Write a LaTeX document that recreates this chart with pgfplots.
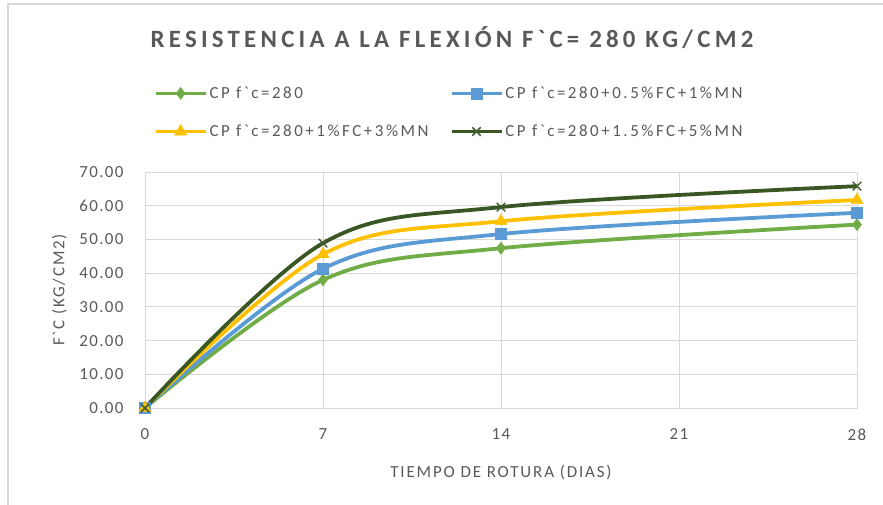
\documentclass[border=0pt]{standalone}
\usepackage{fontspec}
\setmainfont{Carlito}[Ligatures=TeXOff]
\usepackage{pgfplots}
\pgfplotsset{compat=1.18}
\definecolor{txt}{RGB}{89,89,89}
\definecolor{gridc}{RGB}{217,217,217}
\definecolor{cgreen}{RGB}{112,173,71}
\definecolor{cblue}{RGB}{91,155,213}
\definecolor{cyellow}{RGB}{255,192,0}
\definecolor{cdark}{RGB}{56,87,35}

\begin{document}
\begin{tikzpicture}
\useasboundingbox (0bp,0bp) rectangle (883bp,505bp);
\draw[gridc,line width=1.2bp] (8bp,0bp) -- (8bp,501bp) -- (883bp,501bp);

\node[text=txt,font=\fontsize{25}{28}\selectfont\bfseries\addfontfeature{LetterSpace=17}] at (452bp,467bp)
  {RESISTENCIA A LA FLEXIÓN F`C= 280 KG/CM2};

\begin{axis}[
  at={(145bp,97bp)}, anchor=south west,
  scale only axis,
  width=712bp, height=236bp,
  xmin=0, xmax=28, ymin=0, ymax=70,
  xtick={0,7,14,21,28},
  ytick={0,10,...,70},
  yticklabel={\pgfmathprintnumber[fixed,fixed zerofill,precision=2]{\tick}},
  /pgf/number format/assume math mode=true,
  tick label style={font=\fontsize{17}{19}\selectfont\addfontfeature{LetterSpace=8},text=txt},
  xticklabel style={yshift=-17bp},
  yticklabel style={xshift=-18bp},
  major tick length=0pt,
  grid=major,
  grid style={gridc,line width=0.9bp},
  axis line style={gridc,line width=0.9bp},
  xlabel={TIEMPO DE ROTURA (DIAS)},
  ylabel={F`C (KG/CM2)},
  label style={font=\fontsize{17}{19}\selectfont\addfontfeature{LetterSpace=11},text=txt},
  xlabel style={yshift=-18bp},
  ylabel style={yshift=6bp},
  clip=false,
  legend columns=2,
  legend cell align=left,
  legend style={draw=none,fill=none,inner sep=0pt,
    at={(0.012,1.37)},anchor=north west,
    font=\fontsize{17}{19}\selectfont\addfontfeature{LetterSpace=15},text=txt,
    /tikz/every even column/.append style={column sep=19bp},
    row sep=21bp},
  legend image code/.code={
    \draw[mark repeat=2,mark phase=2] plot coordinates {(0bp,0bp) (25bp,0bp) (50bp,0bp)};},
  every axis plot/.append style={line width=3.8bp, smooth, tension=0.55},
]
\addplot[cgreen, mark=diamond*, mark size=6bp, mark options={line width=0.5bp}] coordinates {
  (0,0) (7,38.0) (14,47.4) (28,54.4)};
\addlegendentry{CP f`c=280}
\addplot[cblue, mark=square*, mark size=5.5bp, mark options={line width=0.5bp}] coordinates {
  (0,0) (7,41.3) (14,51.6) (28,57.9)};
\addlegendentry{CP f`c=280+0.5\%FC+1\%MN}
\addplot[cyellow, mark=triangle*, mark size=7bp, mark options={line width=0.5bp}] coordinates {
  (0,0) (7,45.6) (14,55.4) (28,61.7)};
\addlegendentry{CP f`c=280+1\%FC+3\%MN}
\addplot[cdark, mark=x, mark size=6bp, mark options={line width=1.5bp,color=cdark!85!gray}] coordinates {
  (0,0) (7,48.9) (14,59.6) (28,65.8)};
\addlegendentry{CP f`c=280+1.5\%FC+5\%MN}
\end{axis}
\end{tikzpicture}
\end{document}
